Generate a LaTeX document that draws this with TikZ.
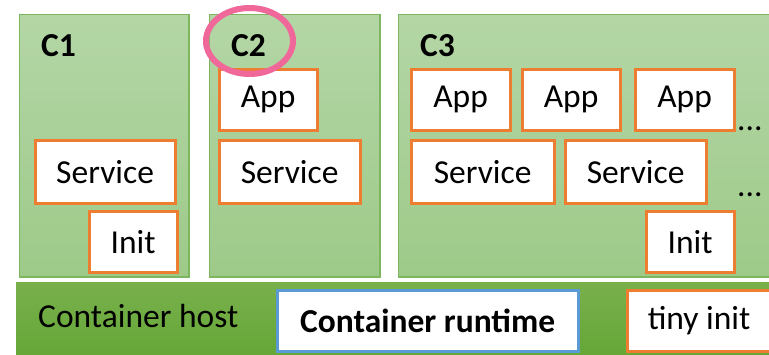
\documentclass[tikz,border=0pt]{standalone}
\usepackage{fontspec}
\setmainfont{Carlito}
\definecolor{cgreenT}{HTML}{B4D6A6}
\definecolor{cgreenB}{HTML}{9DCA89}
\definecolor{cgreenD}{HTML}{7DB65E}
\definecolor{hostT}{HTML}{78B04C}
\definecolor{hostB}{HTML}{64A636}
\definecolor{obord}{HTML}{ED7D31}
\definecolor{bbord}{HTML}{5B9BD5}
\definecolor{pinkc}{HTML}{F0679A}
\begin{document}
\begin{tikzpicture}[x=1pt,y=-1pt,
  every node/.style={font=\fontsize{33.5}{40}\selectfont, inner sep=0pt},
  ctr/.style={draw=cgreenD, line width=1.2pt, top color=cgreenT, bottom color=cgreenB},
  hostbar/.style={top color=hostT, bottom color=hostB},
  obox/.style={draw=obord, line width=3.2pt, fill=white, anchor=north west},
  bbox/.style={draw=bbord, line width=3.2pt, fill=white, anchor=north west},
  lbl/.style={font=\fontsize{33.5}{40}\selectfont\bfseries, anchor=base west}]
\useasboundingbox (0,0) rectangle (769,354);
\begin{scope}
\clip (0,0) rectangle (769,354);
% containers
\path[ctr] (19.5,14.5) rectangle (189,277);
\path[ctr] (209.5,14.5) rectangle (380,277);
\path[ctr] (398.5,14.5) rectangle (775,277);
\node[lbl] (c1) at (41,56) {C1};
\node[lbl] (c2) at (231,56) {C2};
\node[lbl] (c3) at (420,56) {C3};
% C1
\node[obox, minimum width=140pt, minimum height=63pt] (s1) at (33.5,138.5) {Service};
\node[obox, minimum width=88pt, minimum height=61pt] (i1) at (87.5,209.5) {Init};
% C2
\node[obox, minimum width=98pt, minimum height=61pt] (a2) at (217.5,67.5) {App};
\node[obox, minimum width=141pt, minimum height=63pt] (s2) at (217.5,138.5) {Service};
% C3
\node[obox, minimum width=99pt, minimum height=61pt] (a31) at (409.5,67.5) {App};
\node[obox, minimum width=98pt, minimum height=61pt] (a32) at (520.5,67.5) {App};
\node[obox, minimum width=99pt, minimum height=61pt] (a33) at (633.5,67.5) {App};
\node[obox, minimum width=143pt, minimum height=63pt] (s31) at (409.5,138.5) {Service};
\node[obox, minimum width=141pt, minimum height=63pt] (s32) at (563.5,138.5) {Service};
\node[obox, minimum width=88pt, minimum height=61pt] (i3) at (644.5,209.5) {Init};
\node[anchor=base west] (d1) at (737,130) {...};
\node[anchor=base west] (d2) at (737,196) {...};
% host
\path[hostbar] (16,282) rectangle (775,360);
\node[anchor=base west] (host) at (38,327) {Container host};
\node[bbox, minimum width=301pt, minimum height=61pt, font=\fontsize{33.5}{40}\selectfont\bfseries] (rt) at (275.5,288.5) {Container runtime};
\node[obox, minimum width=144pt, minimum height=61pt] (ti) at (625.5,288.5) {tiny init};
% highlight
\draw[pinkc, line width=6pt] (249.5,41) ellipse [x radius=43.5pt, y radius=33pt];
\end{scope}
\end{tikzpicture}
\end{document}
